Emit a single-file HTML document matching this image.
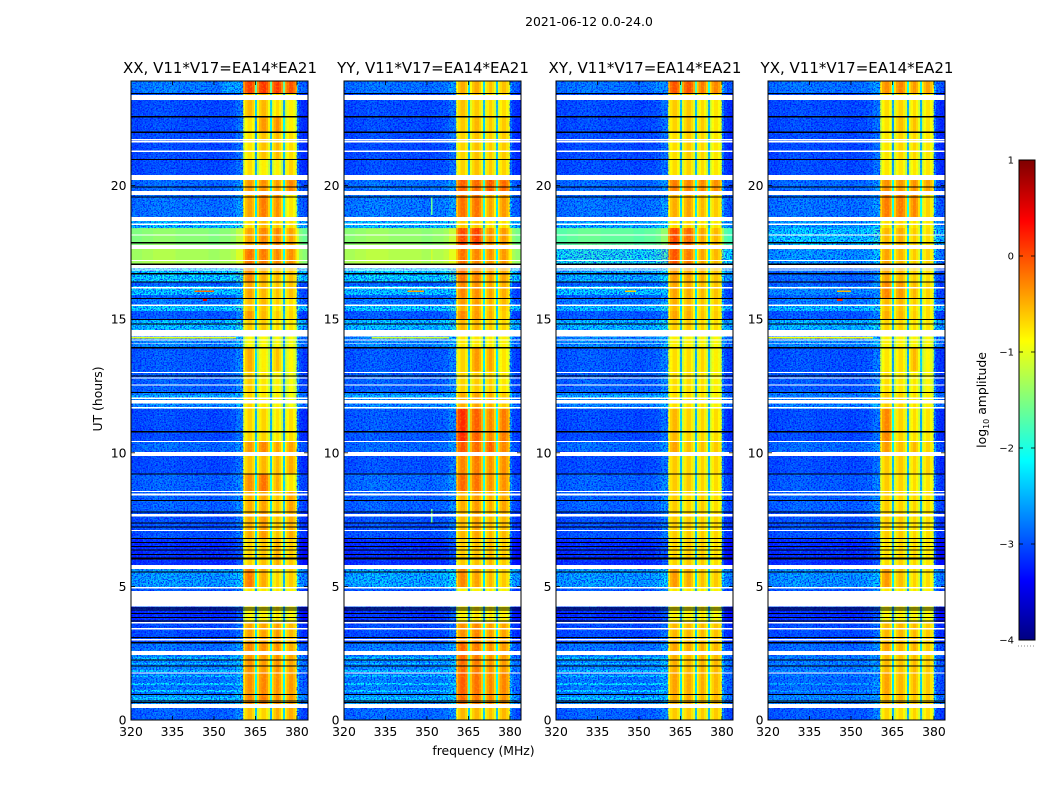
<!DOCTYPE html>
<html>
<head>
<meta charset="utf-8">
<title>2021-06-12 dynamic spectra</title>
<style>
html,body{margin:0;padding:0;background:#fff;width:1050px;height:800px;overflow:hidden}
svg{display:block}
text{font-family:"DejaVu Sans","Liberation Sans",sans-serif;fill:#000}
</style>
</head>
<body>
<svg id="chart" xmlns="http://www.w3.org/2000/svg" width="1050" height="800" viewBox="0 0 1050 800">
<defs>
<filter id="speckle-dark" x="0" y="0" width="1" height="1" color-interpolation-filters="sRGB">
<feTurbulence type="fractalNoise" baseFrequency="0.62 0.72" numOctaves="2" seed="4"/>
<feColorMatrix type="matrix" values="0 0 0 0 0  0 0 0 0 0  0 0 0 0 1  5 0 0 0 -2.25"/>
</filter>
<filter id="speckle-light" x="0" y="0" width="1" height="1" color-interpolation-filters="sRGB">
<feTurbulence type="fractalNoise" baseFrequency="0.6 0.66" numOctaves="2" seed="11"/>
<feColorMatrix type="matrix" values="0 0 0 0 0  0 0 0 0 0.68  0 0 0 0 1  0 5 0 0 -2.5"/>
</filter>
<filter id="speckle-band" x="0" y="0" width="1" height="1" color-interpolation-filters="sRGB">
<feTurbulence type="fractalNoise" baseFrequency="0.5 0.5" numOctaves="1" seed="7"/>
<feColorMatrix type="matrix" values="0 0 0 0 1  0 0 0 0 0.85  0 0 0 0 0  4 0 0 0 -1.9"/>
</filter>
</defs>
<text x="589" y="26" text-anchor="middle" font-size="12.4">2021-06-12 0.0-24.0</text>
<text x="483.5" y="755" text-anchor="middle" font-size="12.4">frequency (MHz)</text>
<text transform="translate(102,399) rotate(-90)" text-anchor="middle" font-size="12.4">UT (hours)</text>
<g id="panels"></g>
<g id="colorbar"></g>
<text transform="translate(986,400) rotate(-90)" text-anchor="middle" font-size="12.4">log<tspan font-size="8" dy="3">10</tspan><tspan dy="-3"> amplitude</tspan></text>
</svg>
<script>
// ---- Data ----
const panelTitles = ["XX, V11*V17=EA14*EA21","YY, V11*V17=EA14*EA21","XY, V11*V17=EA14*EA21","YX, V11*V17=EA14*EA21"];
const xTickValues = [320,335,350,365,380];
const yTickValues = [0,5,10,15,20];
const cbarTickValues = [1,0,-1,-2,-3,-4];

// time segment edges, hours, top to bottom
const segmentEdges = [23.91,23.47,22.60,22.0,20.96,20.40,19.65,18.67,18.41,17.78,17.03,16.39,15.79,15.49,15.31,14.97,14.60,13.92,13.06,12.27,11.64,10.44,9.88,9.21,8.57,7.78,6.81,5.80,4.98,4.23,3.67,2.88,2.43,1.80,0.94,0.45,0];

// frequency channel groups: edges in MHz, group (0 background, 1-4 bands, -n gap after band n), log offset
const freqEdges = [320,324,328,332,336,340,344,348,352,356,358,360.5,
  361.2,362.2,363.8,364.4,364.8,365.5,
  366.2,367.2,368.8,369.6,370.2,370.9,
  371.6,372.4,373.6,374.3,374.9,375.6,
  376.3,377.2,378.6,379.4,380,380.7,382,384];
const freqGroup = [0,0,0,0,0,0,0,0,0,0,0,
  1,1,1,1,1,-1,
  2,2,2,2,2,-2,
  3,3,3,3,3,-3,
  4,4,4,4,4,
  0,0,0];
const freqOffset = [0,.05,.1,.1,.05,.05,.05,0,.05,.12,.3,
  -.35,-.05,.1,-.05,-.35,-1.75,
  -.35,-.05,.1,-.05,-.35,-1.75,
  -.35,-.05,.1,-.05,-.35,-1.75,
  -.35,-.05,.1,-.05,-.35,
  .35,0,-.1];

// background level (log10 amplitude) per time segment, per polarisation
const backgroundXX = [-2.7,-3.0,-3.0,-3.0,-3.0,-2.8,-2.75,-2.3,-1.5,-1.35,-2.2,-2.85,-2.7,-2.2,-2.9,-2.3,-2.6,-2.9,-2.85,-2.6,-3.0,-2.8,-3.0,-2.85,-2.85,-2.95,-3.2,-2.5,-2.9,-3.2,-3.0,-2.75,-2.6,-2.7,-2.5,-2.85];
const backgroundYY = [-2.75,-3.0,-3.0,-3.0,-3.0,-2.75,-2.7,-2.3,-1.45,-1.3,-2.2,-2.85,-2.7,-2.2,-2.9,-2.3,-2.6,-2.9,-2.85,-2.6,-2.9,-2.8,-2.95,-2.8,-2.85,-2.95,-3.2,-2.4,-2.9,-3.15,-3.0,-2.7,-2.6,-2.65,-2.45,-2.8];
const backgroundXY = [-2.75,-3.0,-3.0,-3.0,-3.0,-2.8,-2.75,-2.4,-1.7,-2.05,-2.4,-2.85,-2.7,-2.3,-2.9,-2.35,-2.6,-2.9,-2.85,-2.65,-3.0,-2.8,-3.0,-2.85,-2.85,-2.95,-3.2,-2.5,-2.9,-3.2,-3.0,-2.75,-2.6,-2.7,-2.55,-2.85];
const backgroundYX = [-2.75,-3.0,-3.0,-3.0,-3.0,-2.8,-2.75,-2.5,-2.25,-2.55,-2.8,-2.85,-2.7,-2.3,-2.9,-2.35,-2.6,-2.95,-2.9,-2.65,-3.0,-2.8,-3.0,-2.9,-2.85,-2.95,-3.2,-2.55,-2.9,-3.2,-3.0,-2.8,-2.7,-2.8,-2.6,-2.9];

// band levels [band1,band2,band3,band4] per time segment
const bandsXX = [[0,.05,.05,-.1],[-.6,-.6,-.8,-.9],[-.85,-.45,-.4,-.9],[-.85,-.65,-.6,-.8],[-.8,-.9,-.9,-.75],[-.45,-.4,-.45,-.35],[-.5,-.3,-.4,-.85],[-.8,-.6,-.7,-.8],[-.5,-.35,-.35,-.5],[-.25,-.3,-.35,-.4],[-.35,-.55,-.6,-.65],[-.5,-.6,-.65,-.65],[-.6,-.6,-.7,-.8],[-.65,-.65,-.8,-.8],[-.45,-.6,-.7,-.75],[-.7,-.7,-.8,-.85],[-.95,-.95,-.95,-1],[-.55,-.9,-.65,-.95],[-.7,-.85,-.9,-1],[-.75,-.85,-.9,-1],[-.75,-.75,-.85,-.8],[-.45,-.35,-.5,-.5],[-.65,-.6,-.6,-.55],[-.4,-.25,-.55,-.85],[-.55,-.5,-.65,-.5],[-.55,-.45,-.65,-.55],[-.75,-.65,-.55,-.7],[-.3,-.55,-.75,-.7],[-.85,-.85,-.85,-.9],[-.95,-.9,-.85,-.95],[-.5,-.5,-.45,-.6],[-.35,-.4,-.4,-.55],[-.4,-.45,-.4,-.5],[-.4,-.35,-.4,-.45],[-.35,-.3,-.4,-.45],[-.65,-.75,-.55,-.55]];
const bandsYY = [[-.55,-.55,-.65,-.65],[-.65,-.7,-.75,-.8],[-.7,-.6,-.7,-.7],[-.75,-.65,-.7,-.7],[-.75,-.65,-.7,-.75],[-.15,-.2,-.1,-.2],[-.25,-.25,-.5,-.45],[-.7,-.7,-.8,-.8],[-.05,0,-.4,-.45],[-.25,-.35,-.4,-.45],[-.25,-.35,-.45,-.5],[-.35,-.4,-.5,-.55],[-.45,-.45,-.55,-.6],[-.55,-.5,-.6,-.65],[-.35,-.45,-.55,-.7],[-.6,-.6,-.7,-.75],[-.85,-.85,-.85,-.9],[-.75,-.45,-.5,-.85],[-.75,-.7,-.7,-.85],[-.55,-.5,-.55,-.7],[.1,-.15,-.35,-.3],[-.1,-.2,-.15,-.35],[-.35,-.3,-.4,-.4],[-.2,-.25,-.4,-.4],[-.55,-.45,-.55,-.5],[-.6,-.5,-.6,-.6],[-.7,-.65,-.6,-.7],[-.35,-.5,-.6,-.7],[-.9,-.9,-.85,-.9],[-.9,-.85,-.85,-.9],[-.4,-.35,-.45,-.5],[-.2,-.3,-.4,-.45],[-.2,-.3,-.4,-.45],[-.15,-.25,-.35,-.35],[-.2,-.3,-.35,-.4],[-.6,-.6,-.65,-.6]];
const bandsXY = [[-.1,-.1,-.3,-.35],[-.7,-.7,-.8,-.85],[-.75,-.65,-.7,-.85],[-.8,-.7,-.75,-.85],[-.8,-.75,-.8,-.85],[-.3,-.35,-.35,-.4],[-.55,-.5,-.6,-.7],[-.8,-.75,-.8,-.85],[-.05,-.2,-.5,-.6],[-.1,-.3,-.5,-.6],[-.45,-.5,-.55,-.65],[-.5,-.55,-.6,-.65],[-.55,-.6,-.65,-.7],[-.6,-.6,-.7,-.75],[-.5,-.55,-.65,-.7],[-.7,-.7,-.75,-.8],[-.9,-.9,-.9,-.95],[-.8,-.8,-.75,-.9],[-.8,-.8,-.8,-.9],[-.8,-.8,-.8,-.9],[-.6,-.75,-.75,-.8],[-.5,-.65,-.65,-.7],[-.7,-.75,-.75,-.75],[-.7,-.7,-.75,-.8],[-.7,-.75,-.7,-.8],[-.7,-.7,-.7,-.75],[-.75,-.7,-.7,-.8],[-.45,-.55,-.65,-.7],[-.85,-.85,-.85,-.9],[-.9,-.9,-.85,-.95],[-.6,-.6,-.6,-.65],[-.5,-.55,-.55,-.6],[-.55,-.6,-.55,-.6],[-.5,-.55,-.55,-.6],[-.55,-.55,-.6,-.6],[-.7,-.7,-.7,-.7]];
const bandsYX = [[-.4,-.35,-.45,-.5],[-.8,-.75,-.8,-.85],[-.85,-.65,-.65,-.85],[-.85,-.75,-.75,-.85],[-.85,-.85,-.85,-.85],[-.4,-.45,-.4,-.5],[-.3,-.3,-.35,-.75],[-.8,-.75,-.8,-.85],[-.6,-.55,-.7,-.8],[-.5,-.6,-.7,-.75],[-.5,-.6,-.7,-.8],[-.35,-.45,-.6,-.75],[-.6,-.6,-.7,-.8],[-.65,-.65,-.75,-.8],[-.55,-.6,-.7,-.8],[-.75,-.75,-.8,-.85],[-.9,-.9,-.9,-.95],[-.85,-.8,-.6,-.95],[-.8,-.85,-.85,-.95],[-.7,-.75,-.8,-.9],[-.35,-.75,-.8,-.85],[-.45,-.65,-.6,-.75],[-.7,-.7,-.75,-.75],[-.7,-.75,-.8,-.85],[-.7,-.75,-.75,-.8],[-.7,-.7,-.75,-.8],[-.8,-.75,-.75,-.85],[-.45,-.65,-.75,-.8],[-.85,-.85,-.85,-.9],[-.95,-.9,-.9,-.95],[-.6,-.6,-.6,-.7],[-.5,-.6,-.55,-.7],[-.6,-.65,-.6,-.7],[-.5,-.6,-.6,-.7],[-.6,-.6,-.65,-.7],[-.75,-.8,-.75,-.8]];

// flagged (blank) time ranges [from,to] hours
const flaggedHours = [[23.40,23.20],[21.75,21.69],[21.67,21.62],[21.32,21.26],[20.40,20.21],[19.80,19.65],[18.83,18.67],[18.58,18.53],[18.17,18.13],[17.78,17.63],[17.22,17.18],[17.03,16.90],[16.86,16.83],[16.21,16.15],[15.55,15.50],[14.60,14.35],[14.24,14.21],[14.09,14.07],[13.03,12.99],[12.82,12.78],[12.56,12.51],[12.07,12.01],[11.98,11.84],[11.72,11.66],[10.44,10.41],[10.03,9.88],[8.57,8.53],[8.48,8.40],[7.71,7.61],[7.11,7.07],[5.80,5.65],[4.98,4.92],[4.83,4.24],[3.67,3.61],[3.44,3.39],[3.03,2.98],[2.58,2.43],[1.78,1.74],[0.60,0.45]];
// zero-amplitude (black) time rows, hours
const deadHours = [23.45,22.58,22.0,20.98,19.95,19.57,17.86,17.06,16.70,16.39,15.77,14.99,14.82,13.93,12.87,12.26,10.79,9.21,8.22,7.78,7.37,7.22,6.79,6.64,6.49,6.36,6.19,6.06,6.02,5.54,4.19,4.12,3.99,3.84,3.70,3.09,2.89,2.25,2.02,0.95,0.71,0.65];
// brighter background rows: hour top, hour bottom, level
const stripeTop = [16.24,12.16,2.36,2.13,1.87,1.68,1.38,1.12,0.86];
const stripeBottom = [15.90,12.05,2.25,2.10,1.80,1.61,1.31,1.05,0.75];
const stripeLevel = [-2.2,-2.3,-2.25,-2.2,-2.2,-2.25,-2.1,-2.15,-2.2];
const stripeGain = [0,0,0,-.35];
// narrow interference [panel, hour top, hour bottom, MHz low, MHz high, level]
const rfiPanel = [0,0,0,1,1,2,3,3,3,1,1,1,0,2];
const rfiHourTop = [16.08,15.75,14.34,16.08,14.34,16.08,16.08,15.75,14.34,19.55,17.70,7.90,23.91,23.91];
const rfiHourBottom = [16.02,15.69,14.28,16.02,14.28,16.02,16.02,15.69,14.28,18.90,17.10,7.40,23.47,23.47];
const rfiLow = [343,346,320,343,330,345,345,345,320,351.5,351.5,351.5,353,355];
const rfiHigh = [350,347.5,358,349,358,349,350,347,358,352,352,352,360.5,360.5];
const rfiLevel = [-.15,.5,-1,-.4,-1.1,-.6,-.5,.2,-.9,-1.6,-1.1,-1.6,-2.4,-2.55];
const panelBackgrounds = [backgroundXX,backgroundYY,backgroundXY,backgroundYX];
const panelBands = [bandsXX,bandsYY,bandsXY,bandsYX];

// ---- Layout and scales ----
const NS = "http://www.w3.org/2000/svg";
const panelLefts = [131,344,556,768];
const plotW = 177, plotTop = 81, plotBottom = 720, hourPx = 26.72;
const panelsG = document.getElementById('panels');
const cbarG = document.getElementById('colorbar');
function xScale(left, mhz){ return left + (mhz - 320) * plotW / 64; }
function yScale(hour){ return plotBottom - hour * hourPx; }
function jet(v){
  const t = Math.max(0, Math.min(1, (v + 4) / 5));
  const ch = c => Math.round(255 * Math.max(0, Math.min(1, 1.5 - Math.abs(4 * t - c))));
  return `rgb(${ch(3)},${ch(2)},${ch(1)})`;
}
function el(tag, attrs, parent){
  const n = document.createElementNS(NS, tag);
  for (const k in attrs) n.setAttribute(k, attrs[k]);
  parent.appendChild(n);
  return n;
}

panelLefts.forEach((left, p) => {
  const g = el('g', {}, panelsG);
  
  
  const clipId = 'clip' + p;
  const cp = el('clipPath', {id: clipId}, g);
  el('rect', {x: left, y: plotTop, width: plotW, height: plotBottom - plotTop}, cp);
  const cells = el('g', {'clip-path': `url(#${clipId})`, 'shape-rendering': 'crispEdges'}, g);
  
  

  const bg = panelBackgrounds[p], bands = panelBands[p];
  // speckle only shows on the noisy (non-green) time segments
  const noiseClipId = 'noise' + p;
  const noiseClip = el('clipPath', {id: noiseClipId}, g);
  for (let s = 0; s < segmentEdges.length - 1; s++) {
    for (let c = 0; c < freqGroup.length; c++) {
      const grp = freqGroup[c];
      const base = grp === 0 ? bg[s] : bands[s][Math.abs(grp) - 1];
      const val = base + freqOffset[c];
      const x0 = xScale(left, freqEdges[c]), x1 = xScale(left, freqEdges[c + 1]);
      const y0 = yScale(segmentEdges[s]), y1 = yScale(segmentEdges[s + 1]);
      const cell = el('rect', {x: x0, y: y0, width: x1 - x0 + .4, height: y1 - y0 + .4, fill: jet(val)}, cells);
      
      
    }
    if (bg[s] < -1.95) {
      el('rect', {x: left, y: yScale(segmentEdges[s]), width: plotW, height: yScale(segmentEdges[s + 1]) - yScale(segmentEdges[s])}, noiseClip);
    }
  }
  const stripeRight = xScale(left, 360.5);
  stripeTop.forEach((top, i) => {
    const r = el('rect', {x: left, y: yScale(top), width: stripeRight - left, height: yScale(stripeBottom[i]) - yScale(top), fill: jet(stripeLevel[i] + stripeGain[p])}, cells);
    
    
  });
  rfiPanel.forEach((pi, i) => {
    if (pi !== p || rfiHourTop[i] < 23) return;
    const r = el('rect', {x: xScale(left, rfiLow[i]), y: yScale(rfiHourTop[i]), width: xScale(left, rfiHigh[i]) - xScale(left, rfiLow[i]), height: yScale(rfiHourBottom[i]) - yScale(rfiHourTop[i]), fill: jet(rfiLevel[i])}, cells);
    
    
  });
  // speckle texture as a purely visual overlay
  const bgW = stripeRight - left;
  const noise = el('g', {'clip-path': `url(#${noiseClipId})`}, cells);
  
  
  el('rect', {x: left, y: plotTop, width: bgW, height: plotBottom - plotTop, filter: 'url(#speckle-dark)', opacity: .8}, noise);
  el('rect', {x: left, y: plotTop, width: bgW, height: plotBottom - plotTop, filter: 'url(#speckle-light)', opacity: .4}, noise);
  el('rect', {x: xScale(left, 380), y: plotTop, width: xScale(left, 384) - xScale(left, 380), height: plotBottom - plotTop, filter: 'url(#speckle-dark)', opacity: .8}, noise);
  el('rect', {x: stripeRight, y: plotTop, width: xScale(left, 380) - stripeRight, height: plotBottom - plotTop, filter: 'url(#speckle-band)', opacity: .25}, cells);

  rfiPanel.forEach((pi, i) => {
    if (pi !== p || rfiHourTop[i] >= 23) return;
    const r = el('rect', {x: xScale(left, rfiLow[i]), y: yScale(rfiHourTop[i]), width: xScale(left, rfiHigh[i]) - xScale(left, rfiLow[i]), height: yScale(rfiHourBottom[i]) - yScale(rfiHourTop[i]), fill: jet(rfiLevel[i])}, cells);
    
    
  });
  flaggedHours.forEach(f => {
    const r = el('rect', {x: left, y: yScale(f[0]), width: plotW, height: yScale(f[1]) - yScale(f[0]), fill: '#fff'}, cells);
    
    
  });
  deadHours.forEach(h => {
    const r = el('rect', {x: left, y: yScale(h) - .6, width: plotW, height: 1.2, fill: '#000'}, cells);
    
    
  });

  const title = el('text', {x: left + plotW / 2 + .5, y: 73, 'text-anchor': 'middle', 'font-size': 15}, g);
  title.textContent = panelTitles[p];
  
  

  const frame = el('rect', {x: left, y: plotTop, width: plotW, height: plotBottom - plotTop, fill: 'none', stroke: '#000', 'stroke-width': 1}, g);
  
  

  xTickValues.forEach(v => {
    const x = xScale(left, v);
    const t1 = el('line', {x1: x, x2: x, y1: plotBottom, y2: plotBottom - 4, stroke: '#000', 'stroke-width': .8}, g);
    
    
    const t2 = el('line', {x1: x, x2: x, y1: plotTop, y2: plotTop + 4, stroke: '#000', 'stroke-width': .8}, g);
    
    
    const lab = el('text', {x: x, y: 736, 'text-anchor': 'middle', 'font-size': 12.4}, g);
    lab.textContent = v;
    
    
  });
  yTickValues.forEach(v => {
    const y = yScale(v);
    const t1 = el('line', {x1: left, x2: left + 4, y1: y, y2: y, stroke: '#000', 'stroke-width': .8}, g);
    
    
    const t2 = el('line', {x1: left + plotW, x2: left + plotW - 4, y1: y, y2: y, stroke: '#000', 'stroke-width': .8}, g);
    
    
    const lab = el('text', {x: left - 4.5, y: y + 4.5, 'text-anchor': 'end', 'font-size': 12.4}, g);
    lab.textContent = v;
    
    
  });
});

// ---- Colorbar ----
const cbX = 1019, cbW = 16, cbTop = 160, cbBottom = 640;
function cbY(v){ return cbBottom - (v + 4) * (cbBottom - cbTop) / 5; }
const cbCells = el('g', {'shape-rendering': 'crispEdges'}, cbarG);
for (let i = 0; i < 240; i++) {
  const v = -4 + (i + .5) * 5 / 240;
  const r = el('rect', {x: cbX, y: cbY(-4 + (i + 1) * 5 / 240), width: cbW, height: 2.5, fill: jet(v)}, cbCells);
  
  
}
const cbFrame = el('rect', {x: cbX, y: cbTop, width: cbW, height: cbBottom - cbTop, fill: 'none', stroke: '#000', 'stroke-width': 1}, cbarG);


cbarTickValues.forEach(v => {
  const y = cbY(v);
  const a = el('line', {x1: cbX, x2: cbX + 4, y1: y, y2: y, stroke: '#000', 'stroke-width': .8}, cbarG);
  
  
  const b = el('line', {x1: cbX + cbW, x2: cbX + cbW - 4, y1: y, y2: y, stroke: '#000', 'stroke-width': .8}, cbarG);
  
  
  const lab = el('text', {x: cbX - 5, y: y + 3.5, 'text-anchor': 'end', 'font-size': 10}, cbarG);
  lab.textContent = v < 0 ? '\u2212' + Math.abs(v) : v;
  
  
});
const dots = el('line', {x1: 1018, x2: 1035, y1: 646, y2: 646, stroke: '#888', 'stroke-width': 1, 'stroke-dasharray': '1 2'}, cbarG);


</script>
</body>
</html>
